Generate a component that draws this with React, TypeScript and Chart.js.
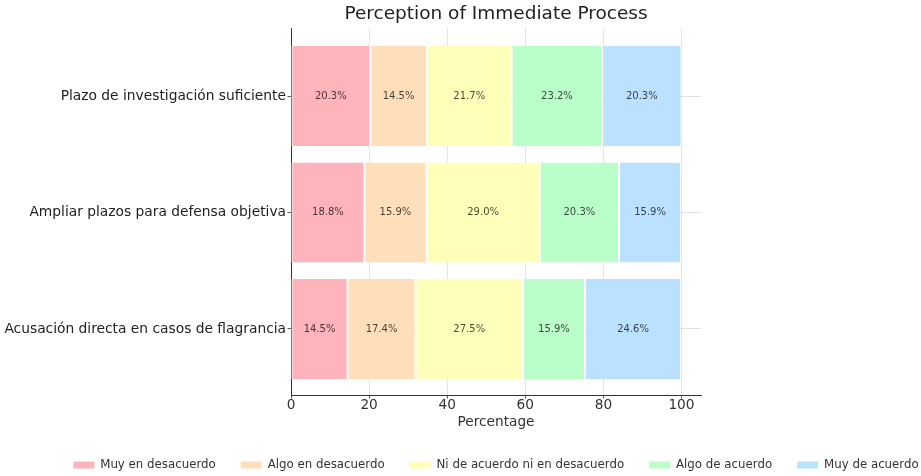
import React, { useEffect, useRef } from "react";
import { Chart, registerables } from "chart.js";

Chart.register(...registerables);

const categories = [
  "Plazo de investigación suficiente",
  "Ampliar plazos para defensa objetiva",
  "Acusación directa en casos de flagrancia",
];
const seriesNames = [
  "Muy en desacuerdo",
  "Algo en desacuerdo",
  "Ni de acuerdo ni en desacuerdo",
  "Algo de acuerdo",
  "Muy de acuerdo",
];
const muyDesacuerdo = [20.3, 18.8, 14.5];
const algoDesacuerdo = [14.5, 15.9, 17.4];
const neutral = [21.7, 29.0, 27.5];
const algoAcuerdo = [23.2, 20.3, 15.9];
const muyAcuerdo = [20.3, 15.9, 24.6];
const xTicks = [0, 20, 40, 60, 80, 100];
const colors = ["#FFB3BA", "#FFDFBA", "#FFFFBA", "#BAFFC9", "#BAE1FF"];

const FONT = "'DejaVu Sans', sans-serif";

const dataLabels = {
  id: "dataLabels",
  afterDatasetsDraw(chart: any) {
    const ctx = chart.ctx;
    ctx.save();
    ctx.font = `10px ${FONT}`;
    ctx.fillStyle = "rgba(0,0,0,0.72)";
    ctx.textAlign = "center";
    ctx.textBaseline = "middle";
    chart.data.datasets.forEach((ds: any, di: number) => {
      const meta = chart.getDatasetMeta(di);
      meta.data.forEach((el: any, i: number) => {
        const v = ds.data[i].x;
        ctx.fillText(v.toFixed(1) + "%", (el.x + el.base) / 2, el.y);
      });
    });
    ctx.restore();
  },
};

const shiftBlocks = {
  id: "shiftBlocks",
  afterLayout(chart: any) {
    const dx = (chart.chartArea.left + chart.chartArea.right) / 2 - chart.width / 2;
    if (chart.titleBlock) {
      chart.titleBlock.left += dx;
      chart.titleBlock.right += dx;
    }
    if (chart.legend) {
      chart.legend.left += dx;
      chart.legend.right += dx;
      chart.legend.top += 5;
      chart.legend.bottom += 5;
    }
  },
};

export default function App() {
  const ref = useRef<HTMLCanvasElement>(null);
  useEffect(() => {
    const series = [muyDesacuerdo, algoDesacuerdo, neutral, algoAcuerdo, muyAcuerdo];
    const chart = new Chart(ref.current as HTMLCanvasElement, {
      type: "bar",
      data: {
        datasets: series.map((vals, si) => ({
          label: seriesNames[si],
          data: vals.map((v, i) => ({ x: v, y: i })),
          backgroundColor: colors[si],
          borderColor: "#ffffff",
          borderWidth: { left: 1, right: 1, top: 0, bottom: 0 },
          borderSkipped: false,
          categoryPercentage: 1,
          barPercentage: 0.86,
        })),
      },
      options: {
        indexAxis: "y",
        responsive: false,
        animation: false,
        layout: { padding: 0 },
        scales: {
          x: {
            type: "linear",
            stacked: true,
            min: 0,
            max: 105,
            z: 1,
            afterBuildTicks: (s: any) => {
              s.ticks = xTicks.map((v) => ({ value: v }));
            },
            grid: {
              color: "rgba(0,0,0,0.13)",
              lineWidth: 0.8,
              tickColor: "#333",
              tickLength: 3.5,
            },
            border: { display: true, color: "#333", width: 1 },
            ticks: {
              font: { size: 13.7, family: FONT },
              color: "#333",
              padding: -1.4,
              maxRotation: 0,
            },
            title: {
              display: true,
              text: "Percentage",
              font: { size: 13.7, family: FONT },
              color: "#333",
              padding: { top: 2.1, bottom: -1.5 },
            },
          },
          y: {
            type: "linear",
            stacked: true,
            reverse: true,
            offset: false,
            min: -0.584,
            max: 2.567,
            z: 1,
            afterBuildTicks: (s: any) => {
              s.ticks = categories.map((_, i) => ({ value: i }));
            },
            afterFit: (s: any) => {
              s.width = 291;
            },
            grid: {
              offset: false,
              color: "rgba(0,0,0,0.15)",
              lineWidth: 0.8,
              borderDash: [3, 3],
              tickColor: "#333",
              tickBorderDash: [],
              tickLength: 3.5,
            },
            border: { display: true, color: "#333", width: 1 },
            ticks: {
              font: { size: 13.8, family: FONT },
              color: "#222",
              padding: 1.5,
              autoSkip: false,
              callback: (v: any) => categories[v as number] ?? "",
            },
          },
          yRight: {
            type: "linear",
            position: "right",
            display: true,
            grid: { display: false, drawTicks: false },
            border: { display: false },
            ticks: { display: false },
            afterFit: (s: any) => {
              s.width = 220;
            },
          },
        },
        plugins: {
          title: {
            display: true,
            text: "Perception of Immediate Process",
            font: { size: 18.5, family: FONT, weight: "normal" },
            color: "#222",
            padding: { top: 3.4, bottom: 2.4 },
          },
          legend: {
            position: "bottom",
            labels: {
              boxWidth: 21,
              boxHeight: 7,
              padding: 25,
              color: "#333",
              font: { size: 11.8, family: FONT },
              generateLabels: (c: any) =>
                Chart.defaults.plugins.legend.labels
                  .generateLabels(c)
                  .map((l: any) => ({ ...l, lineWidth: 0, strokeStyle: "rgba(0,0,0,0)" })),
            },
          },
          tooltip: { enabled: false },
        },
      } as any,
      plugins: [dataLabels, shiftBlocks],
    });
    return () => chart.destroy();
  }, []);
  return (
    <div style={{ position: "fixed", left: 0, top: 0, width: 921, height: 476, background: "#fff" }}>
      <canvas ref={ref} width={921} height={476} />
    </div>
  );
}
